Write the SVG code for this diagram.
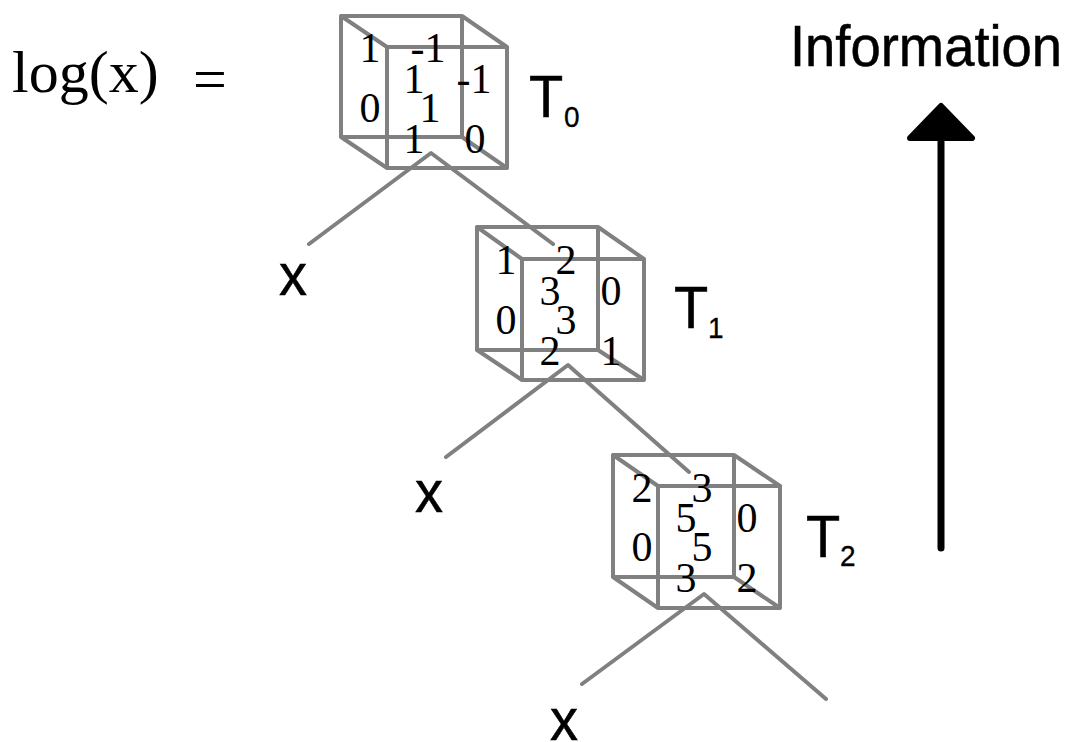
<svg xmlns="http://www.w3.org/2000/svg" width="1080" height="742" viewBox="0 0 1080 742">
<style>
.e{fill:none;stroke:#808080;stroke-width:4;stroke-linejoin:round;stroke-linecap:round}
.d{font-family:"Liberation Serif",serif;font-size:42px;fill:#000;text-anchor:middle}
.s{font-family:"Liberation Sans",sans-serif;fill:#000;stroke:#000;stroke-width:.5}
.l{font-size:56px}
.u{font-size:28px;stroke-width:.3}
.m{font-family:"Liberation Serif",serif;font-size:60px;fill:#000}
</style>
<rect width="1080" height="742" fill="#fff"/>
<g id="connectors">
<path class="e" d="M309 244L431 153L553 244"/>
<path class="e" d="M446 457L568 365L689 472"/>
<path class="e" d="M582 684L704 594L826 699"/>
<path d="M941 548V135" fill="none" stroke="#000" stroke-width="7" stroke-linecap="round"/>
<path d="M910 138L941 106L972 138Z" fill="#000" stroke="#000" stroke-width="6" stroke-linejoin="round"/>
</g>
<g id="T0">
<path class="e" d="M341 16H462V137H341ZM387 47H507V168H387ZM341 16L387 47M462 16L507 47M341 137L387 168M462 137L507 168"/>
<text class="d" x="370" y="62">1</text><text class="d" x="428" y="62">-1</text>
<text class="d" x="414" y="93">1</text><text class="d" x="474" y="93">-1</text>
<text class="d" x="370" y="122">0</text><text class="d" x="430" y="122">1</text>
<text class="d" x="414" y="153">1</text><text class="d" x="475" y="153">0</text>
<text class="s l" transform="translate(529 117) scale(1 1.05)">T</text><text class="s u" transform="translate(564 126.500) scale(1 1.05)">0</text>
</g>
<g id="T1">
<path class="e" d="M477 227H598V350H477ZM522 259H644V380H522ZM477 227L522 259M598 227L644 259M477 350L522 380M598 350L644 380"/>
<text class="d" x="506" y="274">1</text><text class="d" x="566" y="274">2</text>
<text class="d" x="550" y="305">3</text><text class="d" x="611" y="305">0</text>
<text class="d" x="506" y="334">0</text><text class="d" x="566" y="334">3</text>
<text class="d" x="550" y="365">2</text><text class="d" x="611" y="365">1</text>
<text class="s l" transform="translate(674 328) scale(1 1.05)">T</text><text class="s u" transform="translate(708 338) scale(1 1.05)">1</text>
</g>
<g id="T2">
<path class="e" d="M613 455H734V577H613ZM658 486H780V608H658ZM613 455L658 486M734 455L780 486M613 577L658 608M734 577L780 608"/>
<text class="d" x="642" y="502">2</text><text class="d" x="702" y="502">3</text>
<text class="d" x="686" y="532">5</text><text class="d" x="747" y="532">0</text>
<text class="d" x="642" y="561">0</text><text class="d" x="702" y="561">5</text>
<text class="d" x="686" y="592">3</text><text class="d" x="747" y="592">2</text>
<text class="s l" transform="translate(806 557) scale(1 1.05)">T</text><text class="s u" transform="translate(840 566) scale(1 1.05)">2</text>
</g>
<g id="labels">
<text class="s l" transform="translate(279 295) scale(1 1.06)">x</text>
<text class="s l" transform="translate(415 512) scale(1 1.06)">x</text>
<text class="s l" transform="translate(550 740) scale(1 1.06)">x</text>
<text class="s" font-size="54.4" transform="translate(790 66) scale(1 1.05)">Information</text>
<text class="m" x="12" y="92">log(x)</text>
<text class="m" x="193" y="99">=</text>
</g>
</svg>
